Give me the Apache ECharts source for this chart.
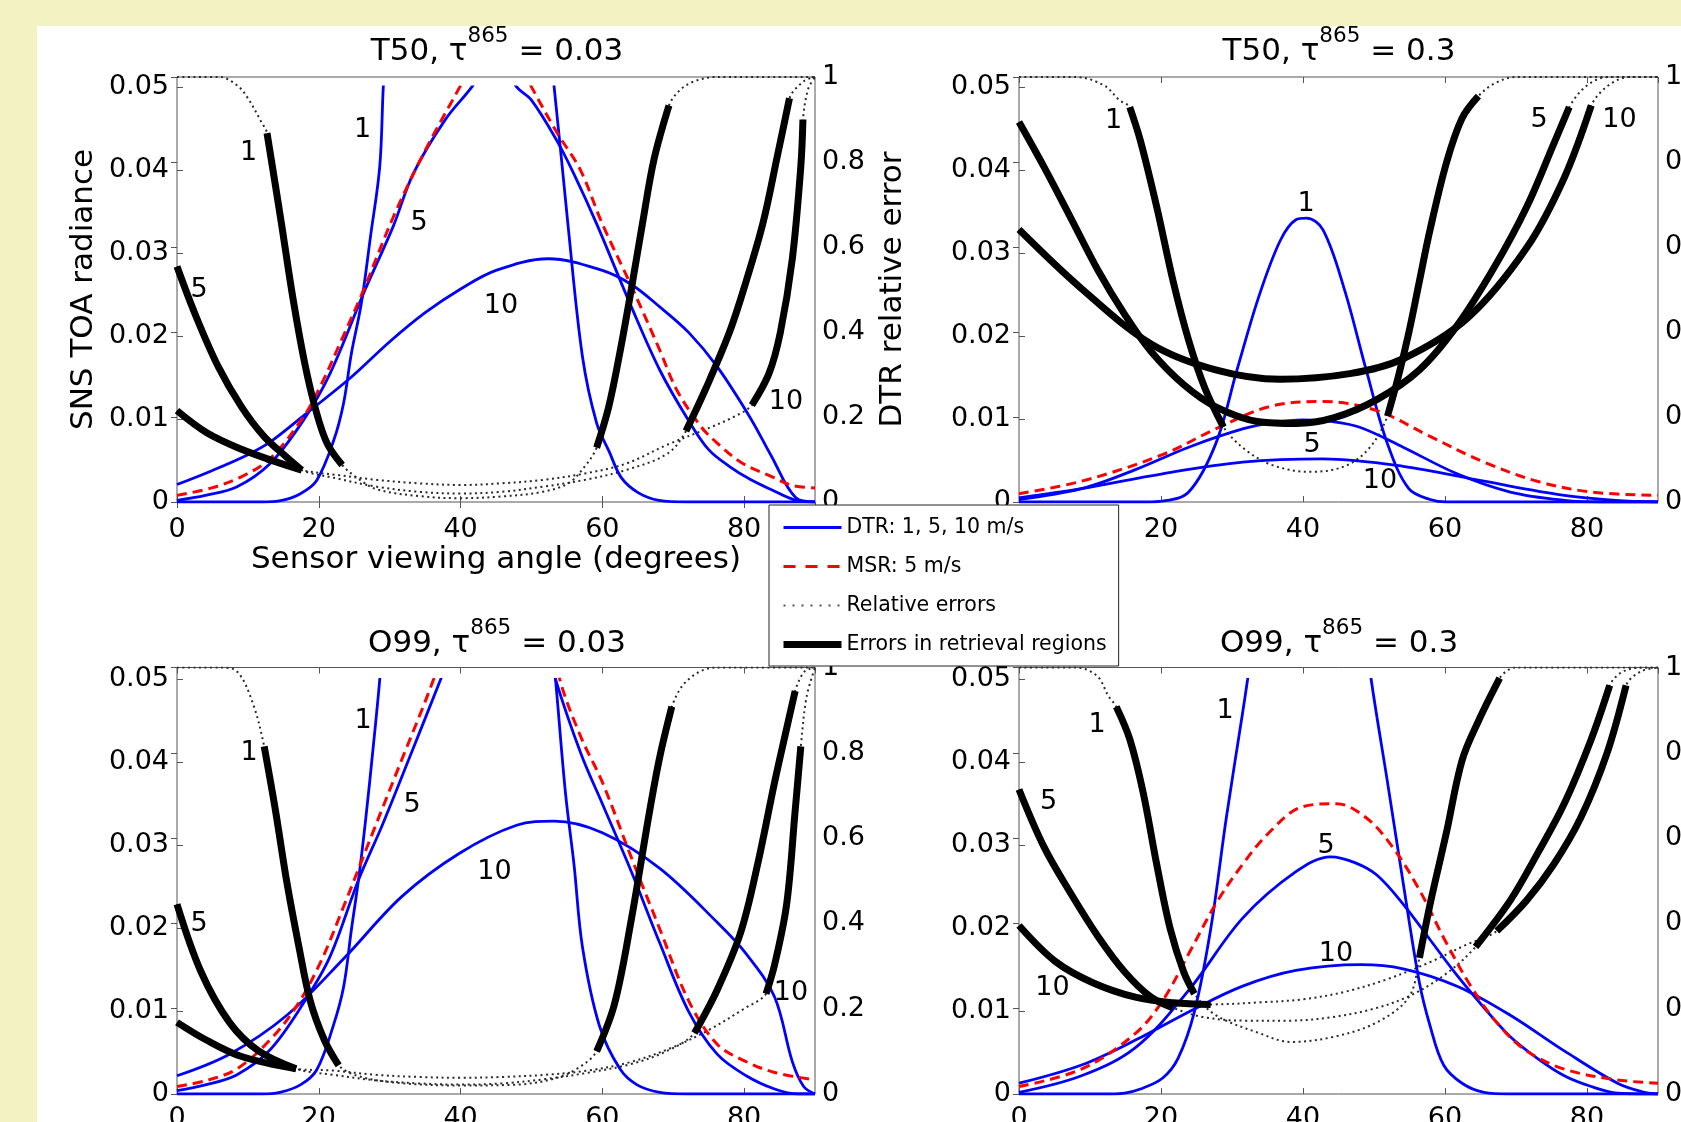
<!DOCTYPE html>
<html><head><meta charset="utf-8">
<script src="https://cdn.jsdelivr.net/npm/echarts/dist/echarts.min.js"></script>
<style>
html,body{margin:0;padding:0;width:1681px;height:1122px;overflow:hidden;background:#f2f2c3;}
#paper{position:absolute;left:37px;top:26px;width:1644px;height:1096px;background:#ffffff;}
#chart{position:absolute;left:0;top:0;width:1681px;height:1122px;}
</style></head><body>
<div id="paper"></div><div id="chart"></div>
<script>
// ---------- tick labels ----------
const angleTicks = [0, 20, 40, 60, 80];
const radianceTicks = [0, 0.01, 0.02, 0.03, 0.04, 0.05];
const errorTicks = [0, 0.2, 0.4, 0.6, 0.8, 1];
const angleMax = 90, radianceMax = 0.05, errorMax = 1;

// ---------- panel titles ----------
const panelModels = ['T50', 'T50', 'O99', 'O99'];
const panelTaus = ['0.03', '0.3', '0.03', '0.3'];

// ---------- T50, tau = 0.03 ----------
const tlDtr1 = [[0,0],[12,0],[14.8,0.0002],[17.4,0.001],[19.7,0.0026],[22.1,0.0074],[23.5,0.0119],[24.6,0.0179],[26,0.0239],[27.3,0.032],[28.6,0.0404],[29.1,0.05],[29.8,0.06],[41,0.2],[52,0.058],[53.2,0.05],[55.2,0.033],[57.2,0.0175],[59.2,0.0095],[61,0.006],[62.7,0.0029],[65.1,0.0011],[68,0.0002],[72,0],[90,0]];
const tlDtr5 = [[0,0.0002],[4,0.0008],[8.4,0.0018],[13.1,0.0046],[17.8,0.0098],[21.6,0.0155],[26.5,0.0255],[30.5,0.0332],[33.3,0.0395],[37.8,0.046],[41.6,0.05],[44.8,0.054],[47.9,0.05],[50,0.0484],[53.6,0.0435],[56,0.0395],[59.2,0.0335],[64.1,0.0235],[68.1,0.0159],[72.1,0.0099],[75,0.0063],[77.9,0.0043],[80.9,0.0027],[83.8,0.0015],[87.3,0.0002],[90,0]];
const tlDtr10 = [[0,0.0021],[5,0.0038],[10,0.0057],[13.1,0.0072],[18,0.0105],[24.4,0.0149],[30,0.0193],[35,0.0228],[39.9,0.0256],[45,0.0279],[52.4,0.0293],[60,0.0279],[64.1,0.0262],[68.1,0.0235],[72.2,0.0204],[76.2,0.0163],[80.9,0.0101],[83.8,0.0056],[87.3,0.0005],[90,0]];
const tlMsr = [[0,0.0008],[4.9,0.0017],[9,0.003],[13.1,0.0052],[17.8,0.0102],[20.2,0.0139],[23.2,0.0195],[26.3,0.0255],[30.5,0.0343],[34.8,0.042],[39.9,0.05],[45,0.058],[50,0.05],[53.6,0.0445],[56.9,0.04],[60,0.0335],[64.1,0.026],[68.1,0.0183],[70.5,0.0135],[73.9,0.0091],[76.2,0.0071],[79.7,0.0047],[83.8,0.0031],[86.8,0.002],[90,0.0017]];
const tlErr1 = [[0,1],[6,1],[8.5,0.98],[10,0.95],[11.9,0.894],[12.7,0.868],[14.7,0.659],[16.3,0.485],[18,0.328],[19.6,0.215],[21.2,0.137],[23.3,0.087],[25.3,0.058],[28.2,0.03],[34.1,0.014],[39.9,0.009],[45.8,0.013],[51.6,0.024],[55.2,0.044],[57.5,0.083],[59.2,0.128],[60.9,0.224],[62.5,0.354],[64.1,0.502],[65.7,0.659],[67.3,0.807],[69.4,0.933],[71,0.97],[73,0.99],[76,1],[90,1]];
const tlErr5 = [[0,0.554],[2.6,0.44],[5.8,0.319],[9.1,0.224],[12.3,0.154],[15.5,0.105],[17.6,0.075],[22.4,0.056],[28.2,0.036],[34.1,0.024],[40,0.02],[45.8,0.024],[51.6,0.036],[57.5,0.052],[63.3,0.075],[69.2,0.114],[71.8,0.167],[74.6,0.267],[77.9,0.398],[80.3,0.52],[82.7,0.659],[84.7,0.815],[86.4,0.95],[88.4,0.99],[90,1]];
const tlErr10 = [[0,0.215],[4.2,0.163],[9.1,0.124],[13.9,0.095],[17.6,0.075],[22.4,0.064],[28.2,0.052],[34.1,0.044],[40,0.04],[45.8,0.044],[51.6,0.052],[57.5,0.067],[63.3,0.09],[69.2,0.135],[75,0.174],[78.5,0.2],[81.1,0.228],[83.5,0.302],[85.1,0.398],[86.8,0.572],[88,0.79],[88.3,0.9],[89,0.97],[90,1]];
const tlReg1 = [[12.7,23.3],[59.2,69.4]];
const tlReg5 = [[0,17.6],[71.8,86.4]];
const tlReg10 = [[0,17.6],[81.1,88.3]];
const tlNotes = [[10.09,0.04198,'1'],[26.17,0.04487,'1'],[34.14,0.03361,'5'],[3.1,0.02554,'5'],[45.71,0.02361,'10'],[85.91,0.01199,'10']];

// ---------- T50, tau = 0.3 ----------
const trDtr1 = [[0,0],[18,0],[20.2,0.0001],[23.9,0.0012],[27.7,0.007],[30.7,0.0159],[33.8,0.0248],[36.8,0.0315],[39,0.034],[40.5,0.0342],[42.8,0.0328],[45.8,0.0257],[48.9,0.0159],[51.9,0.007],[54.9,0.0016],[57.9,0.0003],[60.2,0],[90,0]];
const trDtr5 = [[0,0.0003],[8.8,0.0016],[16.4,0.0039],[23.9,0.0066],[31.5,0.0088],[36,0.0096],[40,0.0099],[44,0.0097],[48,0.009],[54.1,0.0066],[61.7,0.0034],[69.2,0.0012],[76.8,0.0002],[82,0],[90,0]];
const trDtr10 = [[0,0.0005],[8.8,0.0016],[20.2,0.0034],[31.5,0.0048],[42.8,0.0052],[54.1,0.0043],[65.5,0.0025],[76.8,0.0008],[84,0.0002],[90,0]];
const trMsr = [[0,0.001],[8.8,0.0025],[20.2,0.0057],[27.7,0.0088],[35.3,0.0115],[42.8,0.0121],[50.4,0.011],[57.9,0.0079],[65.5,0.0048],[73,0.0025],[80.6,0.0012],[90,0.0008]];
const trErr1 = [[0,1],[8,1],[12,0.98],[14.1,0.946],[15.6,0.929],[17.1,0.85],[19.4,0.694],[21.7,0.52],[23.9,0.38],[26.2,0.267],[28.8,0.176],[32.2,0.119],[36,0.085],[41,0.071],[46,0.085],[49.5,0.13],[51.9,0.202],[53.4,0.293],[54.9,0.398],[56.4,0.52],[57.9,0.641],[60.2,0.798],[62.4,0.903],[64.7,0.955],[67,0.985],[70,1],[90,1]];
const trErr5 = [[0,0.894],[3.5,0.789],[7.3,0.668],[11.1,0.546],[14.9,0.441],[18.6,0.354],[23.2,0.276],[27.7,0.224],[33.8,0.189],[39,0.185],[44.3,0.198],[50.4,0.241],[56.4,0.311],[61.7,0.415],[67,0.554],[71.5,0.694],[75.3,0.842],[77.5,0.929],[80,0.98],[83,1],[90,1]];
const trErr10 = [[0,0.641],[8.8,0.502],[18.6,0.372],[27.7,0.311],[36.8,0.289],[46.6,0.302],[54.1,0.337],[63.2,0.433],[71.5,0.598],[76.8,0.763],[80.6,0.933],[83,0.98],[86,1],[90,1]];
const trReg1 = [[15.6,28.8],[51.9,64.7]];
const trReg5 = [[0,77.5]];
const trReg10 = [[0,80.6]];
const trNotes = [[13.31,0.0459,'1'],[40.42,0.03584,'1'],[73.24,0.04602,'5'],[84.58,0.04602,'10'],[41.27,0.00687,'5'],[50.85,0.00252,'10']];

// ---------- O99, tau = 0.03 ----------
const blDtr1 = [[0,0],[12,0],[14.5,0.0002],[17.4,0.0011],[19.7,0.0029],[22,0.0081],[23.5,0.0129],[24.6,0.0198],[25.6,0.0258],[26.6,0.033],[27.7,0.042],[28.6,0.05],[29.5,0.06],[41,0.2],[52.5,0.058],[53.4,0.05],[54.8,0.0363],[56,0.0277],[57.2,0.0177],[59.6,0.0082],[62.5,0.003],[64.9,0.0011],[68.1,0.0002],[72,0],[90,0]];
const blDtr5 = [[0,0.0004],[4,0.0011],[8.4,0.0023],[13.1,0.0053],[17.8,0.0109],[21.6,0.0166],[25.6,0.0258],[29,0.0325],[33,0.041],[37.2,0.05],[39,0.054],[46,0.065],[52,0.055],[53.4,0.05],[57,0.041],[60,0.035],[64.1,0.0268],[68.1,0.0182],[72.2,0.0099],[76.2,0.0048],[80.3,0.0022],[84.3,0.0006],[87.6,0],[90,0]];
const blDtr10 = [[0,0.0022],[7.4,0.0048],[15.5,0.0095],[23.6,0.0164],[31.7,0.0238],[39.8,0.029],[47.9,0.0324],[53.2,0.0329],[60,0.0315],[68.1,0.0272],[76.2,0.0207],[80.3,0.0169],[84.3,0.0117],[86.8,0.0039],[88.4,0.0009],[90,0]];
const blMsr = [[0,0.0009],[4,0.0016],[8.4,0.003],[13.1,0.0065],[16.8,0.0105],[20.2,0.0158],[23.5,0.0226],[27.7,0.0317],[31.7,0.0403],[36.2,0.05],[38,0.055],[46,0.066],[53,0.056],[54,0.05],[57,0.043],[60,0.0376],[64.1,0.0285],[68.1,0.0199],[72.2,0.0112],[76.2,0.006],[80.3,0.0039],[84.3,0.0026],[90,0.0017]];
const blErr1 = [[0,1],[6,1],[8.5,0.99],[10.7,0.916],[12.3,0.815],[13.9,0.664],[15.5,0.496],[17.2,0.345],[18.8,0.218],[20.8,0.126],[22.8,0.067],[26,0.04],[32,0.025],[40,0.02],[48,0.022],[53,0.035],[56.5,0.06],[59.2,0.1],[61.7,0.21],[64.1,0.41],[66.5,0.647],[68.1,0.79],[69.8,0.908],[72,0.97],[76,1],[90,1]];
const blErr5 = [[0,0.445],[3.4,0.286],[7.4,0.168],[11.5,0.101],[16.8,0.059],[22,0.045],[28,0.032],[34,0.025],[40,0.022],[46,0.025],[52,0.035],[58,0.05],[64,0.07],[69,0.1],[73,0.143],[76.2,0.244],[79.5,0.378],[81.9,0.538],[84.3,0.731],[86,0.857],[87.2,0.945],[88.5,0.99],[90,1]];
const blErr10 = [[0,0.168],[4.2,0.126],[9.1,0.088],[16.8,0.059],[22,0.055],[28,0.045],[34,0.04],[40,0.038],[46,0.04],[52,0.045],[58,0.055],[64,0.075],[70,0.11],[75,0.15],[80,0.2],[83.1,0.235],[84.3,0.303],[86,0.445],[87.2,0.664],[88,0.815],[88.8,0.93],[90,1]];
const blReg1 = [[12.3,22.8],[59.2,69.8]];
const blReg5 = [[0,16.8],[73,87.2]];
const blReg10 = [[0,16.8],[83.1,88]];
const blNotes = [[10.16,0.04109,'1'],[26.24,0.04497,'1'],[33.15,0.0349,'5'],[3.1,0.0205,'5'],[44.79,0.02682,'10'],[86.61,0.01218,'10']];

// ---------- O99, tau = 0.3 ----------
const brDtr1 = [[0,0],[13,0],[14.9,0.0001],[17.1,0.0006],[20.2,0.0019],[22.4,0.0043],[24.7,0.0099],[27,0.0199],[29.2,0.0333],[31.5,0.046],[32.2,0.05],[33,0.055],[41,0.2],[49,0.055],[49.6,0.05],[51.9,0.0376],[54.1,0.0255],[56.4,0.0134],[57.9,0.0082],[59.8,0.0035],[62.4,0.0013],[65.5,0.0002],[69,0],[90,0]];
const brDtr5 = [[0,0.0002],[8.8,0.0022],[16.4,0.0056],[23.9,0.0125],[31.5,0.0212],[39,0.0268],[43.9,0.0286],[47.3,0.0279],[50.4,0.0264],[54.1,0.0229],[57.9,0.0186],[61.7,0.0143],[65.5,0.0104],[69.2,0.0069],[73,0.0043],[76.8,0.0022],[80.6,0.0009],[84.3,0.0001],[88,0],[90,0]];
const brDtr10 = [[0,0.0013],[8.8,0.0035],[16.4,0.0065],[23.9,0.0099],[31.5,0.013],[39,0.0149],[48.1,0.0156],[54.1,0.0151],[61.7,0.013],[69.2,0.0095],[76.8,0.0052],[84.3,0.0013],[88.1,0.0002],[90,0]];
const brMsr = [[0,0.0009],[8.8,0.003],[16.4,0.0073],[20.2,0.0112],[23.9,0.0169],[27.7,0.0229],[31.5,0.0277],[35.2,0.0315],[39.8,0.0346],[44.7,0.035],[48.9,0.0333],[52.6,0.0298],[56.4,0.0246],[60.2,0.0182],[64,0.0125],[67.7,0.0082],[71.5,0.0052],[76.8,0.003],[84.3,0.0017],[90,0.0013]];
const brErr1 = [[0,1],[8,1],[11,0.98],[12.6,0.933],[13.7,0.908],[15.6,0.832],[17.5,0.706],[19.4,0.538],[21.3,0.387],[23.2,0.286],[24.7,0.235],[27.7,0.185],[33.8,0.143],[38.3,0.122],[44.3,0.134],[50.4,0.168],[54.9,0.227],[56.4,0.319],[57.9,0.445],[60.2,0.613],[62.4,0.782],[64.7,0.874],[67.7,0.975],[70,1],[90,1]];
const brErr5 = [[0,0.714],[3.5,0.58],[7.3,0.47],[11.1,0.37],[14.9,0.286],[18.6,0.227],[21.7,0.202],[26,0.18],[32,0.172],[38,0.172],[44,0.18],[50,0.2],[55,0.23],[60,0.28],[64.3,0.345],[69.2,0.454],[73,0.563],[76.8,0.681],[80.6,0.832],[83.2,0.958],[85,0.99],[88,1],[90,1]];
const brErr10 = [[0,0.395],[5.1,0.311],[10.4,0.261],[16.4,0.227],[21.7,0.214],[27,0.21],[34,0.215],[40,0.222],[46,0.24],[52,0.27],[58,0.31],[63,0.35],[67.3,0.382],[71.5,0.454],[75.3,0.538],[79.1,0.647],[82.8,0.798],[85.5,0.958],[87.5,0.99],[90,1]];
const brReg1 = [[13.7,24.7],[56.4,67.7]];
const brReg5 = [[0,21.7],[64.3,83.2]];
const brReg10 = [[0,27],[67.3,85.5]];
const brNotes = [[10.99,0.04451,'1'],[29.02,0.04618,'1'],[4.18,0.03526,'5'],[43.24,0.02986,'5'],[44.65,0.01694,'10'],[4.72,0.01278,'10']];

// ---------- legend names ----------
const legendNames = ['DTR: 1, 5, 10 m/s', 'MSR: 5 m/s', 'Relative errors', 'Errors in retrieval regions'];

// =============== build ===============
const FONT = 'DejaVu Sans';
const panels = [
  {dtr:[tlDtr1,tlDtr5,tlDtr10], msr:tlMsr, err:[tlErr1,tlErr5,tlErr10], reg:[tlReg1,tlReg5,tlReg10], notes:tlNotes},
  {dtr:[trDtr1,trDtr5,trDtr10], msr:trMsr, err:[trErr1,trErr5,trErr10], reg:[trReg1,trReg5,trReg10], notes:trNotes},
  {dtr:[blDtr1,blDtr5,blDtr10], msr:blMsr, err:[blErr1,blErr5,blErr10], reg:[blReg1,blReg5,blReg10], notes:blNotes},
  {dtr:[brDtr1,brDtr5,brDtr10], msr:brMsr, err:[brErr1,brErr5,brErr10], reg:[brReg1,brReg5,brReg10], notes:brNotes}
];
// box = full axes frame (error axis); rad = radiance axes (0 .. 0.05)
const layout = [
  {left:177, top:77, width:638, height:425, radTop:86.9, tx:497, ty:51.5, xMargin:14},
  {left:1019, top:77, width:639, height:425, radTop:86.9, tx:1339, ty:51.5, xMargin:14},
  {left:177, top:667.5, width:638, height:426.5, radTop:679.3, tx:497, ty:643.5, xMargin:11},
  {left:1019, top:667.5, width:639, height:426.5, radTop:679.3, tx:1339, ty:643.5, xMargin:11}
];
const AXC = '#555';
const step = a => a[1] - a[0];
const grids = [], xAxes = [], yAxes = [], series = [], graphics = [];
const tickFont = {fontSize:27, fontFamily:FONT, color:'#000'};
const fmt = v => String(Math.round(v * 1000) / 1000);
const tick = {show:true, inside:true, length:6, lineStyle:{color:AXC}};
const nameFont = {fontSize:31, fontFamily:FONT, color:'#000'};

layout.forEach((L, p) => {
  const first = p === 0;
  const gBox = grids.length, gRad = gBox + 1;
  grids.push({left:L.left, top:L.top, width:L.width, height:L.height, containLabel:false, outerBoundsMode:'none',
    show:true, borderColor:AXC, borderWidth:1, backgroundColor:'transparent'});
  grids.push({left:L.left, top:L.radTop, width:L.width, height:L.top + L.height - L.radTop, containLabel:false, outerBoundsMode:'none', show:false});

  const xBottom = xAxes.length;
  xAxes.push({gridIndex:gBox, type:'value', position:'bottom', min:0, max:angleMax, interval:step(angleTicks),
    axisLine:{show:false}, axisTick:tick,
    axisLabel:Object.assign({show:true, margin:L.xMargin, showMaxLabel:false, formatter:fmt}, tickFont),
    splitLine:{show:false},
    name: first ? 'Sensor viewing angle (degrees)' : '', nameLocation:'middle', nameGap:42, nameTextStyle:nameFont});
  xAxes.push({gridIndex:gBox, type:'value', position:'top', min:0, max:angleMax, interval:step(angleTicks),
    axisLine:{show:false}, axisTick:tick, axisLabel:{show:false}, splitLine:{show:false}});
  const xRad = xAxes.length;
  xAxes.push({gridIndex:gRad, type:'value', show:false, min:0, max:angleMax, interval:step(angleTicks)});

  const yRad = yAxes.length;
  yAxes.push({gridIndex:gRad, type:'value', position:'left', min:0, max:radianceMax, interval:step(radianceTicks),
    axisLine:{show:false}, axisTick:tick,
    axisLabel:Object.assign({show:true, margin:8, formatter:fmt}, tickFont),
    splitLine:{show:false}});
  const yErr = yAxes.length;
  yAxes.push({gridIndex:gBox, type:'value', position:'right', min:0, max:errorMax, interval:step(errorTicks),
    axisLine:{show:false}, axisTick:tick,
    axisLabel:Object.assign({show:true, margin:7, formatter:fmt}, tickFont),
    splitLine:{show:false},
    name: first ? 'DTR relative error' : '', nameLocation:'middle', nameGap:62, nameRotate:90, nameTextStyle:nameFont});
  if (first) {
    yAxes.push({gridIndex:gBox, type:'value', position:'left', min:0, max:1,
      axisLine:{show:false}, axisTick:{show:false}, axisLabel:{show:false}, splitLine:{show:false},
      name:'SNS TOA radiance', nameLocation:'middle', nameGap:78, nameRotate:90, nameTextStyle:nameFont});
  }

  graphics.push({type:'text', x:L.tx, y:L.ty, z:30,
    style:{text:'{a|' + panelModels[p] + ', τ}{s|865}{a| = ' + panelTaus[p] + '}',
      align:'center', verticalAlign:'middle', fill:'#000',
      rich:{a:{fontSize:31, fontFamily:FONT, fill:'#000', lineHeight:53},
            s:{fontSize:21.5, fontFamily:FONT, fill:'#000', lineHeight:22, verticalAlign:'top'}}}});

  const pd = panels[p];
  const base = {type:'line', symbol:'none', showSymbol:false, smooth:0.35, clip:true, silent:true, animation:false};
  const onErr = {xAxisIndex:xBottom, yAxisIndex:yErr};
  const onRad = {xAxisIndex:xRad, yAxisIndex:yRad};
  pd.err.forEach(e => series.push(Object.assign({}, base, onErr, {name:legendNames[2], data:e,
    lineStyle:{color:'#2a2a2a', width:2, type:[2,3.5]}, z:2})));
  pd.dtr.forEach(d => series.push(Object.assign({}, base, onRad, {name:legendNames[0], data:d,
    lineStyle:{color:'#0000ff', width:2.8}, z:3})));
  series.push(Object.assign({}, base, onRad, {name:legendNames[1], data:pd.msr,
    lineStyle:{color:'#ff0000', width:3, type:[10,6]}, z:4}));
  pd.err.forEach((e, i) => pd.reg[i].forEach(r => series.push(Object.assign({}, base, onErr, {name:legendNames[3],
    data:e.filter(q => q[0] >= r[0] - 1e-9 && q[0] <= r[1] + 1e-9),
    lineStyle:{color:'#000000', width:7, cap:'butt'}, z:5}))));
  series.push(Object.assign({type:'scatter', name:'labels', silent:true, animation:false,
    symbolSize:1, itemStyle:{color:'rgba(255,255,255,0)', opacity:1}, z:10,
    label:{show:true, position:'inside', fontSize:27, fontFamily:FONT, color:'#000000', opacity:1, textBorderWidth:0},
    emphasis:{disabled:true},
    data:pd.notes.map(n => ({value:[n[0], n[1]], label:{formatter:n[2]}}))}, onRad));
});

const hideSym = {opacity:0, color:'rgba(0,0,0,0)', borderWidth:0};
const chart = echarts.init(document.getElementById('chart'), null, {renderer:'canvas'});
chart.setOption({
  animation:false,
  backgroundColor:'transparent',
  textStyle:{fontFamily:FONT},
  grid:grids, xAxis:xAxes, yAxis:yAxes, series:series, graphic:graphics,
  legend:{show:true, orient:'vertical', left:769, top:505, z:20, selectedMode:false,
    backgroundColor:'#ffffff', borderColor:'#222', borderWidth:1, borderRadius:0,
    padding:[12, 12, 11, 11], itemWidth:58, itemHeight:20, itemGap:18,
    textStyle:{fontSize:20.5, fontFamily:FONT, color:'#000', lineHeight:20},
    data:[
      {name:legendNames[0], itemStyle:hideSym, lineStyle:{color:'#0000ff', width:3, type:'solid'}},
      {name:legendNames[1], itemStyle:hideSym, lineStyle:{color:'#ff0000', width:3, type:[12,10]}},
      {name:legendNames[2], itemStyle:hideSym, lineStyle:{color:'#555', width:2, type:[2,7]}},
      {name:legendNames[3], itemStyle:hideSym, lineStyle:{color:'#000', width:7, type:'solid'}}
    ]}
});
</script></body></html>
